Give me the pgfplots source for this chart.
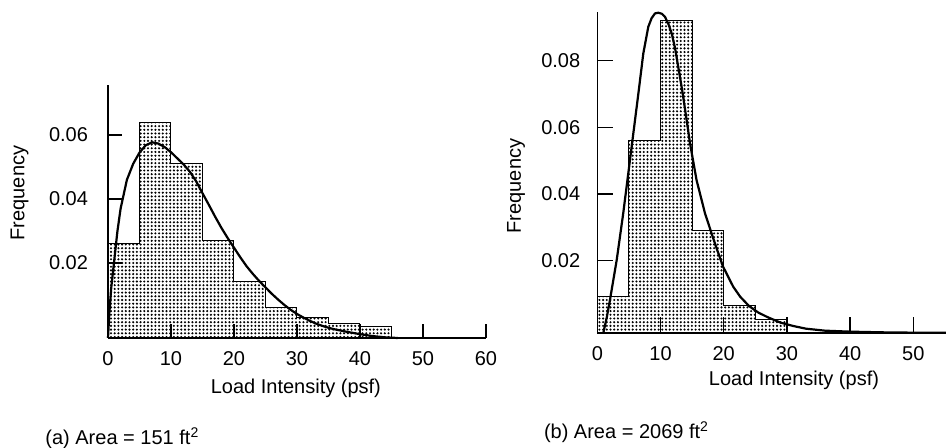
\documentclass[border=0pt]{standalone}
\usepackage{pgfplots}
\pgfplotsset{compat=1.18}
\usepackage{fontspec}
\setmainfont{Liberation Sans}
\usetikzlibrary{patterns.meta}
\tikzdeclarepattern{
  name=fdots,
  type=colored,
  bottom left={(-0.925pt,-0.925pt)},
  top right={(0.925pt,0.925pt)},
  tile size={(1.85pt,1.85pt)},
  code={\fill[black] (0pt,0pt) circle [radius=0.58pt];}
}
\pgfplotsset{
  panel/.style={
    scale only axis,
    axis lines=left,
    axis line style={-, line width=0.8pt},
    tick align=inside,
    tick style={line width=0.7pt, black},
    clip=false,
    scaled y ticks=false,
    scaled x ticks=false,
    font=\fontsize{10}{12}\selectfont,
    ticklabel style={font=\fontsize{10}{12}\selectfont},
    xtick={0,10,20,30,40,50,60},
    xticklabels={0,10,20,30,40,50,60},
    xticklabel style={yshift=-3pt},
    ytick={0.02,0.04,0.06,0.08},
    yticklabels={0.02,0.04,0.06,0.08},
    xlabel={Load Intensity (psf)},
    ylabel={Frequency},
  },
}
\begin{document}
\begin{tikzpicture}
\useasboundingbox (0,0) rectangle (473pt,224pt);
% ---------------- (a) ----------------
\begin{axis}[panel,
  at={(54pt,55pt)}, anchor=south west,
  width=189pt, height=126.5pt,
  xmin=0, xmax=60, ymin=-0.0034, ymax=0.0756,
  major tick length=7pt,
  yticklabel style={xshift=-6.5pt},
  xlabel style={at={(axis description cs:0.497,-0.198)}, anchor=center},
  ylabel style={at={(axis description cs:-0.234,0.573)}, anchor=center, rotate=0},
]
\addplot[const plot, draw=black, line width=0.5pt, pattern=fdots] coordinates {
 (0,-0.0034) (0,0.026) (5,0.064) (10,0.051) (15,0.027) (20,0.0142)
 (25,0.006) (30,0.0029) (35,0.0012) (40,0.0002) (45,0.0002) (45,-0.0034)
} -- cycle;
\addplot[black, line width=1.1pt, line join=round] coordinates {
 (0,-0.0034) (0.2,0.004) (0.5,0.012) (1,0.021) (1.5,0.030) (2,0.037) (3,0.046)
 (4,0.051) (5,0.0545) (6,0.0568) (7,0.0577) (8,0.0573) (9,0.0562) (10,0.0546)
 (11,0.0527) (12,0.0508) (13,0.0485) (14,0.0455) (15,0.0418) (16,0.0382)
 (17,0.0345) (18,0.031) (19,0.0278) (20,0.0248) (21,0.0218) (22,0.019)
 (23,0.0166) (24,0.0144) (25,0.0124) (26,0.0104) (27,0.0086) (28,0.0069)
 (29,0.0054) (30,0.0041) (31,0.003) (32,0.002) (33,0.0011) (34,0.0004)
 (35,-0.0002) (36,-0.0007) (38,-0.0015) (40,-0.0022) (42,-0.0028)
 (44,-0.0032) (46,-0.0034)
};
\node[anchor=center, font=\fontsize{10}{12}\selectfont] at (axis description cs:0.038,-0.395) {(a) Area = 151 ft\textsuperscript{2}};
\end{axis}
% ---------------- (b) ----------------
\begin{axis}[panel,
  at={(298.65pt,57.5pt)}, anchor=south west,
  width=174.35pt, height=160.3pt,
  xmin=0, xmax=55.17, ymin=-0.0017, ymax=0.0945,
  major tick length=8pt,
  yticklabel style={xshift=-5pt},
  xlabel style={at={(axis description cs:0.564,-0.1466)}, anchor=center},
  ylabel style={at={(axis description cs:-0.233,0.4585)}, anchor=center, rotate=0},
]
\addplot[const plot, draw=black, line width=0.5pt, pattern=fdots] coordinates {
 (0,-0.0017) (0,0.0094) (5,0.0562) (10,0.0922) (15,0.0292) (20,0.0067)
 (25,0.0022) (30,0.0022) (30,-0.0017)
} -- cycle;
\addplot[black, line width=1.1pt, line join=round] coordinates {
 (0.95,-0.0017) (1.5,0.003) (2,0.0082) (3.07,0.0202) (4.1,0.0342) (4.9,0.0462)
 (5.7,0.0582) (6.5,0.0702) (7.28,0.0822) (8.07,0.0902) (8.6,0.0928) (9.13,0.0942)
 (9.65,0.0944) (10.2,0.0941) (10.7,0.0932) (11.25,0.091) (11.77,0.0882) (12.3,0.0838)
 (12.8,0.0782) (13.4,0.0715) (13.9,0.0652) (14.67,0.0552) (15.7,0.0442)
 (17.04,0.0342) (18.6,0.0252) (19.9,0.0182) (21.5,0.0122) (22.6,0.0092)
 (24,0.0064) (25.5,0.0044) (27,0.003) (29,0.0014) (31,0.0004) (33,-0.0004)
 (36,-0.001) (40,-0.0013) (45,-0.0015) (50,-0.0016) (55.17,-0.0016)
};
\node[anchor=center, font=\fontsize{10}{12}\selectfont] at (axis description cs:0.0837,-0.309) {(b) Area = 2069 ft\textsuperscript{2}};
\end{axis}
\end{tikzpicture}
\end{document}
